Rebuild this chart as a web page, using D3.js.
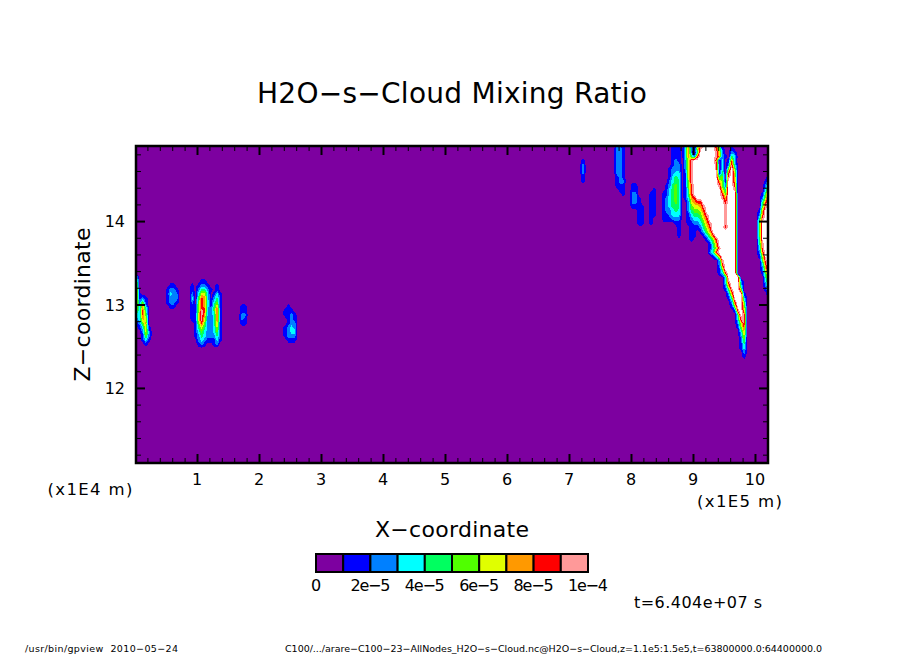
<!DOCTYPE html>
<html>
<head>
<meta charset="utf-8">
<script src="https://cdn.jsdelivr.net/npm/d3@7"></script>
<style>
body { margin: 0; background: #fff; }
text { font-family: "DejaVu Sans", sans-serif; fill: #000; }
.axis path { display: none; }
.axis line { stroke: #000; }
</style>
</head>
<body>
<div id="chart"></div>
<script>
// colour levels, one per 1e-5 band of the mixing ratio
var levelColors = ["#7d00a0", "#0000ff", "#0080ff", "#00ffff", "#00ff60", "#50ff00", "#e0ff00", "#ff9900", "#ff0000", "#ff9999"];
var overColor = "#ffffff";
var barLabels = ["0", "2e\u22125", "4e\u22125", "6e\u22125", "8e\u22125", "1e\u22124"];
var barValues = [0, 2e-5, 4e-5, 6e-5, 8e-5, 1e-4];
var xTicks = [1, 2, 3, 4, 5, 6, 7, 8, 9, 10];
var zTicks = [12, 13, 14];

// the field, in units of 1e-5: one char per grid cell, a = above 1e-4
// grid cell is 0.05 x 0.05 axis units, row 0 is the top of the plot
var edgeLeftRows = ["30000", "50000", "60000", "70000", "71000", "71210", "72510", "63730", "53840", "33850", "23760", "12570", "01361", "00262", "00152", "00131", "00010"];
var blobRows = ["001100", "012210", "013220", "012220", "012210", "001100"];
var twinRows = [
    "0001100000", "1012210010", "1024421010", "2036630131", "3048730241", "2058731351",
    "1158731471", "1159822481", "1169722381", "1169622381", "0158522371", "0146422361",
    "0135322351", "0124322241", "0023211131", "0012100120"
];
var spotRows = ["11", "11", "22", "21", "11"];
var spikeRows = ["0100", "1110", "1121", "0121", "0122", "1232", "1233", "1222", "0111"];
var streakRows = ["1", "2", "2", "2", "1", "1"];
var topARows = ["221", "221", "221", "221", "221", "221", "221", "121", "122", "111", "011", "001"];
var topBRows = ["1100", "1100", "2200", "2210", "2210", "1111", "0011", "0011", "0011", "0011"];
var topCRows = ["01", "11", "11", "11", "11", "11", "11", "10", "10"];
var topDRows = [
    "000111", "000111", "000111", "000121", "000122", "001222", "001233", "001343", "002344",
    "012454", "013454", "113454", "123454", "123454", "123444", "122343", "112333", "111222",
    "000011", "000001", "000001", "000001"
];
var plumeRows = [
    "0372169aaaa8510010", "037204aaaaa9620021", "037428aaaaa9721043", "0269aaaaaaa8030182",
    "0269aaaaaaa9030293", "0269aaaaaaa90305a5", "0169aaaaaaaa1408a6", "0169aaaaaaaa4509a7",
    "0159aaaaaaaa751aa7", "0158aaaaaaaa952aa8", "0148aaaaaaaaa64aa9", "0148aaaaaaaaa85aaa",
    "01378aaaaaaaa97aaa", "0026788aaaaaaa8aaa", "00256679aaaaaa9aaa", "00245568aaaaaa9aaa",
    "001344579aaaaa9aaa", "001233468aaaaa9aaa", "0011223579aaaa9aaa", "0001112468aaaa8aaa",
    "0001101357aaaaaaaa", "00011001358aaaaaaa", "000100001358aaaaaa", "000000000147aaaaaa",
    "0000000001369aaaaa", "000000000248aaaaaa", "0000000000137aaaaa", "00000000000029aaaa",
    "00000000000028aaaa", "00000000000015aaaa", "000000000000138aaa"
];
var tailRows = [
    "3aaaa0", "39aaa2", "27aaa3", "149aa6", "027aaa1", "014aaa3", "0028aa5", "0015aa6", "00019a7", "00004a9",
    "0000399", "0000269", "0000158", "0000037", "0000026", "0000015", "0000014", "0000013", "0000002", "0000001"
];
var edgeRightRows = [
    "0002", "0013", "0025", "0037", "0158", "0269", "048a", "059a", "17aa", "28aa", "49aa", "5aaa", "5aaa",
    "5aaa", "5aaa", "4aaa", "49aa", "39aa", "28aa", "16aa", "059a", "038a", "0279", "0158", "0047", "0036",
    "0025", "0013", "0002", "0001"
];
var backgroundValue = 0.7; // the purple band, just under the first contour

var width = 904, height = 654;
var plot = { left: 136, right: 768, top: 146, bottom: 463 };
var cell = 0.05, zTop = 14.9, gridCols = 206, gridRows = 76;

var svg = d3.select("#chart").append("svg")
    .attr("width", width)
    .attr("height", height)
    .style("display", "block");

var x = d3.scaleLinear().domain([0.016, 10.21]).range([plot.left, plot.right]);
var z = d3.scaleLinear().domain([zTop, 11.1]).range([plot.top, plot.bottom]);

// put the patches on one grid, then let d3 find the filled contours
var grid = new Array(gridCols * gridRows).fill(backgroundValue);
function addPatch(rows, col, row) {
    rows.forEach(function(text, r) {
        text.split("").forEach(function(c, k) {
            var n = parseInt(c, 36);
            if (n > 0) grid[(row + r) * gridCols + col + k] = n + 0.5;
        });
    });
}
addPatch(edgeLeftRows, 0, 31);
addPatch(blobRows, 9, 33);
addPatch(twinRows, 18, 32);
addPatch(spotRows, 34, 38);
addPatch(spikeRows, 48, 38);
addPatch(streakRows, 144, 3);
addPatch(topARows, 155, 0);
addPatch(topBRows, 160, 9);
addPatch(topCRows, 166, 10);
addPatch(topDRows, 170, 0);
addPatch(plumeRows, 176, 0);
addPatch(tailRows, 190, 31);
addPatch(edgeRightRows, 201, 7);

var thresholds = d3.range(1, levelColors.length + 1);
var contours = d3.contours().size([gridCols, gridRows]).thresholds(thresholds)(grid);
var gridToPlot = d3.geoTransform({
    point: function(gx, gy) {
        this.stream.point(x(gx * cell), z(zTop - gy * cell));
    }
});
var path = d3.geoPath(gridToPlot);

svg.append("clipPath").attr("id", "plotclip")
    .append("rect")
    .attr("x", plot.left).attr("y", plot.top)
    .attr("width", plot.right - plot.left).attr("height", plot.bottom - plot.top);

var field = svg.append("g").attr("clip-path", "url(#plotclip)");
field.append("rect")
    .attr("x", plot.left).attr("y", plot.top)
    .attr("width", plot.right - plot.left).attr("height", plot.bottom - plot.top)
    .attr("fill", levelColors[0]);
field.selectAll("path")
    .data(contours)
    .enter()
    .append("path")
    .attr("d", path)
    .attr("shape-rendering", "crispEdges")
    .attr("fill", function(d, i) {
        return i + 1 < levelColors.length ? levelColors[i + 1] : overColor;
    });

////////// axes //////////

var xMinor = d3.range(1, 51).map(function(i) { return i / 5; }).filter(function(v) { return v % 1 !== 0 && v < 10.21; });
var zMinor = d3.range(56, 75).map(function(i) { return i / 5; }).filter(function(v) { return v % 1 !== 0; });

function addTicks(axis, translate, values, size, strokeWidth) {
    var g = svg.append("g")
        .attr("class", "axis")
        .attr("transform", translate)
        .call(axis.tickValues(values).tickSizeInner(size).tickSizeOuter(0).tickFormat(""));
    g.selectAll("line").attr("stroke-width", strokeWidth);
    return g;
}
addTicks(d3.axisBottom(x), "translate(0," + plot.bottom + ")", xMinor, -5, 1);
addTicks(d3.axisBottom(x), "translate(0," + plot.bottom + ")", xTicks, -9, 2);
addTicks(d3.axisTop(x), "translate(0," + plot.top + ")", xMinor, -5, 1);
addTicks(d3.axisTop(x), "translate(0," + plot.top + ")", xTicks, -9, 2);
addTicks(d3.axisLeft(z), "translate(" + plot.left + ",0)", zMinor, -5, 1);
addTicks(d3.axisLeft(z), "translate(" + plot.left + ",0)", zTicks, -9, 2);
addTicks(d3.axisRight(z), "translate(" + plot.right + ",0)", zMinor, -5, 1);
addTicks(d3.axisRight(z), "translate(" + plot.right + ",0)", zTicks, -9, 2);

svg.append("rect")
    .attr("x", plot.left).attr("y", plot.top)
    .attr("width", plot.right - plot.left).attr("height", plot.bottom - plot.top)
    .attr("fill", "none")
    .attr("stroke", "#000")
    .attr("stroke-width", 2.5);

////////// text //////////

function addText(str, px, py, size, len, anchor) {
    var t = svg.append("text")
        .attr("x", px).attr("y", py)
        .attr("font-size", size)
        .attr("text-anchor", anchor || "middle")
        .text(str);
    if (len) t.attr("textLength", len).attr("lengthAdjust", "spacing");
    return t;
}

svg.append("g").selectAll("text").data(xTicks).enter().append("text")
    .attr("x", function(d) { return x(d); })
    .attr("y", 485)
    .attr("font-size", 16)
    .attr("text-anchor", "middle")
    .text(function(d) { return d; });
svg.append("g").selectAll("text").data(zTicks).enter().append("text")
    .attr("x", 125)
    .attr("y", function(d) { return z(d) + 6; })
    .attr("font-size", 16)
    .attr("text-anchor", "end")
    .text(function(d) { return d; });

addText("H2O\u2212s\u2212Cloud Mixing Ratio", 452, 103, 28, 390);
addText("X\u2212coordinate", 452, 537, 22, 154);
addText("Z\u2212coordinate", 0, 0, 22, 154)
    .attr("transform", "translate(90,304.5)rotate(-90)");
addText("(x1E4 m)", 90, 495, 16.5, 85);
addText("(x1E5 m)", 739.5, 507, 16.5, 85);
addText("t=6.404e+07 s", 698, 608, 16, 128);
addText("/usr/bin/gpview  2010\u221205\u221224", 25, 652, 9.5, 153, "start").attr("xml:space", "preserve");
addText("C100/.../arare\u2212C100\u221223\u2212AllNodes_H2O\u2212s\u2212Cloud.nc@H2O\u2212s\u2212Cloud,z=1.1e5:1.5e5,t=63800000.0:64400000.0", 285, 652, 9.5, 537, "start");

////////// colour bar //////////

var bar = d3.scaleLinear().domain([0, 1e-4]).range([316, 588]);
svg.append("g").selectAll("rect")
    .data(levelColors)
    .enter()
    .append("rect")
    .attr("x", function(d, i) { return bar(i * 1e-5); })
    .attr("y", 554)
    .attr("width", bar(1e-5) - bar(0))
    .attr("height", 18)
    .attr("fill", function(d) { return d; })
    .attr("stroke", "#000")
    .attr("stroke-width", 2);
svg.append("g").selectAll("text")
    .data(barValues)
    .enter()
    .append("text")
    .attr("x", function(d) { return bar(d); })
    .attr("y", 591)
    .attr("font-size", 16)
    .attr("text-anchor", "middle")
    .attr("textLength", function(d) { return d === 0 ? null : 40; })
    .text(function(d, i) { return barLabels[i]; });
</script>
</body>
</html>
